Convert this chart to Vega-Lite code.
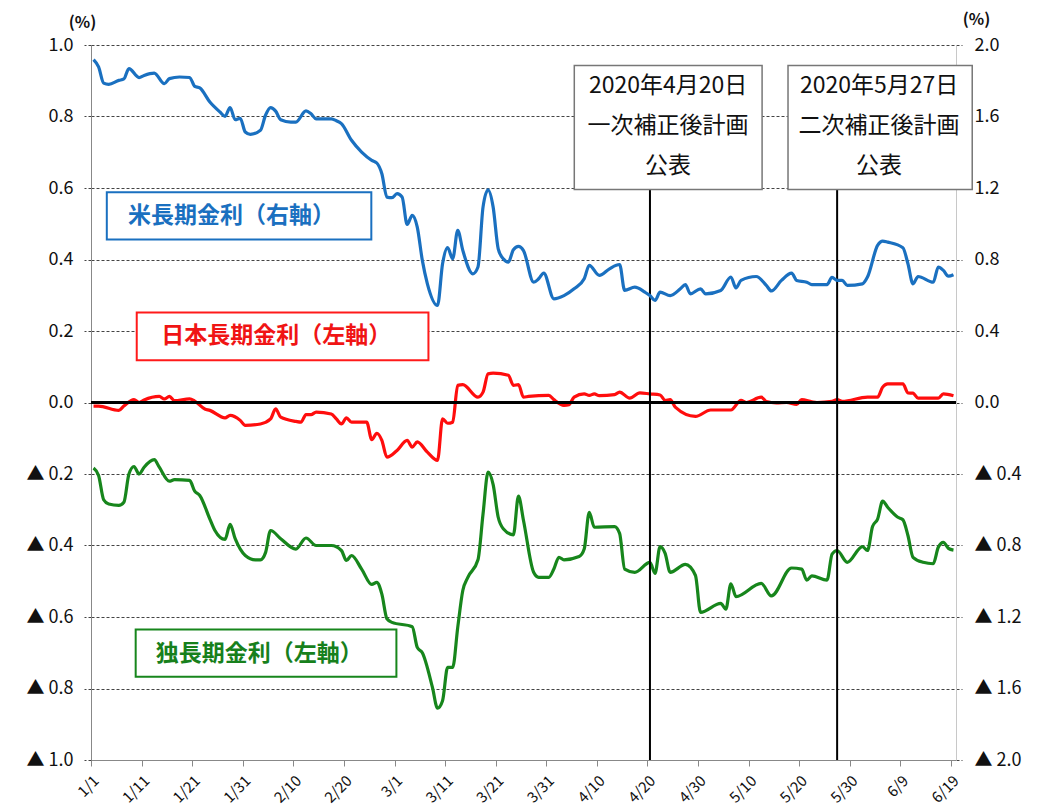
{
  "$schema": "https://vega.github.io/schema/vega-lite/v6.json",
  "width": 865,
  "height": 715,
  "autosize": {"type": "none"},
  "padding": {"left": 91, "top": 45, "right": 93, "bottom": 46},
  "background": "white",
  "config": {
    "font": "Noto Sans CJK JP",
    "view": {"stroke": null}
  },
  "datasets": {
    "jp": [
      {"date": "2020-01-01", "value": -0.010}, {"date": "2020-01-02", "value": -0.010}, {"date": "2020-01-06", "value": -0.022},
      {"date": "2020-01-07", "value": -0.010}, {"date": "2020-01-09", "value": 0.008}, {"date": "2020-01-10", "value": 0.000},
      {"date": "2020-01-11", "value": 0.007}, {"date": "2020-01-14", "value": 0.017}, {"date": "2020-01-15", "value": 0.010},
      {"date": "2020-01-16", "value": 0.017}, {"date": "2020-01-17", "value": 0.005}, {"date": "2020-01-20", "value": 0.010},
      {"date": "2020-01-21", "value": 0.004}, {"date": "2020-01-23", "value": -0.018}, {"date": "2020-01-24", "value": -0.022},
      {"date": "2020-01-27", "value": -0.043}, {"date": "2020-01-28", "value": -0.036}, {"date": "2020-01-30", "value": -0.050},
      {"date": "2020-01-31", "value": -0.064}, {"date": "2020-02-03", "value": -0.060}, {"date": "2020-02-05", "value": -0.046},
      {"date": "2020-02-06", "value": -0.018}, {"date": "2020-02-07", "value": -0.041}, {"date": "2020-02-10", "value": -0.053},
      {"date": "2020-02-11", "value": -0.055}, {"date": "2020-02-12", "value": -0.034}, {"date": "2020-02-13", "value": -0.034},
      {"date": "2020-02-14", "value": -0.027}, {"date": "2020-02-17", "value": -0.032}, {"date": "2020-02-18", "value": -0.046},
      {"date": "2020-02-19", "value": -0.060}, {"date": "2020-02-20", "value": -0.043}, {"date": "2020-02-21", "value": -0.055},
      {"date": "2020-02-24", "value": -0.055}, {"date": "2020-02-25", "value": -0.104}, {"date": "2020-02-26", "value": -0.086},
      {"date": "2020-02-27", "value": -0.106}, {"date": "2020-02-28", "value": -0.153}, {"date": "2020-03-01", "value": -0.134},
      {"date": "2020-03-03", "value": -0.106}, {"date": "2020-03-04", "value": -0.125}, {"date": "2020-03-05", "value": -0.110},
      {"date": "2020-03-07", "value": -0.139}, {"date": "2020-03-09", "value": -0.162}, {"date": "2020-03-10", "value": -0.046},
      {"date": "2020-03-11", "value": -0.058}, {"date": "2020-03-12", "value": -0.055}, {"date": "2020-03-13", "value": 0.048},
      {"date": "2020-03-14", "value": 0.050}, {"date": "2020-03-17", "value": 0.015}, {"date": "2020-03-18", "value": 0.029},
      {"date": "2020-03-19", "value": 0.080}, {"date": "2020-03-20", "value": 0.082}, {"date": "2020-03-23", "value": 0.076},
      {"date": "2020-03-24", "value": 0.048}, {"date": "2020-03-25", "value": 0.050}, {"date": "2020-03-26", "value": 0.015},
      {"date": "2020-03-27", "value": 0.017}, {"date": "2020-03-31", "value": 0.020}, {"date": "2020-04-01", "value": 0.008},
      {"date": "2020-04-03", "value": -0.008}, {"date": "2020-04-04", "value": -0.006}, {"date": "2020-04-05", "value": 0.015},
      {"date": "2020-04-07", "value": 0.024}, {"date": "2020-04-08", "value": 0.020}, {"date": "2020-04-09", "value": 0.024},
      {"date": "2020-04-10", "value": 0.019}, {"date": "2020-04-13", "value": 0.022}, {"date": "2020-04-14", "value": 0.029},
      {"date": "2020-04-16", "value": 0.012}, {"date": "2020-04-18", "value": 0.027}, {"date": "2020-04-20", "value": 0.024},
      {"date": "2020-04-22", "value": 0.021}, {"date": "2020-04-23", "value": 0.006}, {"date": "2020-04-24", "value": 0.008},
      {"date": "2020-04-25", "value": -0.013}, {"date": "2020-04-29", "value": -0.039}, {"date": "2020-05-02", "value": -0.021},
      {"date": "2020-05-06", "value": -0.021}, {"date": "2020-05-08", "value": 0.006}, {"date": "2020-05-09", "value": 0.000},
      {"date": "2020-05-12", "value": 0.015}, {"date": "2020-05-13", "value": 0.003}, {"date": "2020-05-15", "value": -0.001},
      {"date": "2020-05-17", "value": 0.000}, {"date": "2020-05-19", "value": -0.005}, {"date": "2020-05-20", "value": 0.008},
      {"date": "2020-05-22", "value": 0.002}, {"date": "2020-05-23", "value": 0.000}, {"date": "2020-05-26", "value": 0.003},
      {"date": "2020-05-27", "value": 0.008}, {"date": "2020-05-28", "value": 0.003}, {"date": "2020-06-02", "value": 0.015},
      {"date": "2020-06-04", "value": 0.015}, {"date": "2020-06-05", "value": 0.043}, {"date": "2020-06-06", "value": 0.052},
      {"date": "2020-06-09", "value": 0.052}, {"date": "2020-06-10", "value": 0.027}, {"date": "2020-06-11", "value": 0.026},
      {"date": "2020-06-12", "value": 0.012}, {"date": "2020-06-16", "value": 0.012}, {"date": "2020-06-17", "value": 0.024},
      {"date": "2020-06-19", "value": 0.019}
    ],
    "de": [
      {"date": "2020-01-01", "value": -0.183}, {"date": "2020-01-02", "value": -0.204}, {"date": "2020-01-03", "value": -0.272},
      {"date": "2020-01-04", "value": -0.284}, {"date": "2020-01-06", "value": -0.288}, {"date": "2020-01-07", "value": -0.279},
      {"date": "2020-01-08", "value": -0.200}, {"date": "2020-01-09", "value": -0.179}, {"date": "2020-01-10", "value": -0.200},
      {"date": "2020-01-11", "value": -0.181}, {"date": "2020-01-13", "value": -0.160}, {"date": "2020-01-14", "value": -0.181},
      {"date": "2020-01-16", "value": -0.220}, {"date": "2020-01-17", "value": -0.216}, {"date": "2020-01-20", "value": -0.218},
      {"date": "2020-01-21", "value": -0.248}, {"date": "2020-01-22", "value": -0.260}, {"date": "2020-01-24", "value": -0.326},
      {"date": "2020-01-25", "value": -0.358}, {"date": "2020-01-27", "value": -0.383}, {"date": "2020-01-28", "value": -0.341},
      {"date": "2020-01-29", "value": -0.381}, {"date": "2020-01-31", "value": -0.428}, {"date": "2020-02-02", "value": -0.440},
      {"date": "2020-02-03", "value": -0.440}, {"date": "2020-02-04", "value": -0.420}, {"date": "2020-02-05", "value": -0.358},
      {"date": "2020-02-07", "value": -0.381}, {"date": "2020-02-10", "value": -0.410}, {"date": "2020-02-12", "value": -0.379},
      {"date": "2020-02-14", "value": -0.400}, {"date": "2020-02-17", "value": -0.400}, {"date": "2020-02-19", "value": -0.414},
      {"date": "2020-02-20", "value": -0.442}, {"date": "2020-02-21", "value": -0.428}, {"date": "2020-02-23", "value": -0.466},
      {"date": "2020-02-25", "value": -0.509}, {"date": "2020-02-26", "value": -0.503}, {"date": "2020-02-27", "value": -0.536},
      {"date": "2020-02-28", "value": -0.605}, {"date": "2020-02-29", "value": -0.615}, {"date": "2020-03-04", "value": -0.627},
      {"date": "2020-03-05", "value": -0.685}, {"date": "2020-03-06", "value": -0.700}, {"date": "2020-03-08", "value": -0.797},
      {"date": "2020-03-09", "value": -0.855}, {"date": "2020-03-10", "value": -0.834}, {"date": "2020-03-11", "value": -0.741},
      {"date": "2020-03-12", "value": -0.741}, {"date": "2020-03-13", "value": -0.629}, {"date": "2020-03-14", "value": -0.526},
      {"date": "2020-03-15", "value": -0.489}, {"date": "2020-03-17", "value": -0.440}, {"date": "2020-03-18", "value": -0.312},
      {"date": "2020-03-19", "value": -0.195}, {"date": "2020-03-20", "value": -0.230}, {"date": "2020-03-21", "value": -0.321},
      {"date": "2020-03-22", "value": -0.353}, {"date": "2020-03-24", "value": -0.370}, {"date": "2020-03-25", "value": -0.262},
      {"date": "2020-03-26", "value": -0.330}, {"date": "2020-03-28", "value": -0.475}, {"date": "2020-03-29", "value": -0.489},
      {"date": "2020-03-31", "value": -0.489}, {"date": "2020-04-01", "value": -0.466}, {"date": "2020-04-02", "value": -0.433},
      {"date": "2020-04-03", "value": -0.440}, {"date": "2020-04-06", "value": -0.431}, {"date": "2020-04-07", "value": -0.410},
      {"date": "2020-04-08", "value": -0.307}, {"date": "2020-04-09", "value": -0.349}, {"date": "2020-04-13", "value": -0.347},
      {"date": "2020-04-14", "value": -0.366}, {"date": "2020-04-15", "value": -0.466}, {"date": "2020-04-17", "value": -0.475},
      {"date": "2020-04-20", "value": -0.447}, {"date": "2020-04-21", "value": -0.478}, {"date": "2020-04-22", "value": -0.403},
      {"date": "2020-04-23", "value": -0.422}, {"date": "2020-04-24", "value": -0.475}, {"date": "2020-04-27", "value": -0.453},
      {"date": "2020-04-29", "value": -0.484}, {"date": "2020-04-30", "value": -0.587}, {"date": "2020-05-04", "value": -0.562},
      {"date": "2020-05-05", "value": -0.578}, {"date": "2020-05-06", "value": -0.507}, {"date": "2020-05-07", "value": -0.543},
      {"date": "2020-05-12", "value": -0.506}, {"date": "2020-05-14", "value": -0.541}, {"date": "2020-05-18", "value": -0.463},
      {"date": "2020-05-20", "value": -0.466}, {"date": "2020-05-21", "value": -0.497}, {"date": "2020-05-22", "value": -0.485},
      {"date": "2020-05-25", "value": -0.497}, {"date": "2020-05-26", "value": -0.424}, {"date": "2020-05-27", "value": -0.414},
      {"date": "2020-05-29", "value": -0.447}, {"date": "2020-06-01", "value": -0.403}, {"date": "2020-06-02", "value": -0.414},
      {"date": "2020-06-03", "value": -0.347}, {"date": "2020-06-04", "value": -0.326}, {"date": "2020-06-05", "value": -0.276},
      {"date": "2020-06-06", "value": -0.293}, {"date": "2020-06-08", "value": -0.321}, {"date": "2020-06-09", "value": -0.328},
      {"date": "2020-06-10", "value": -0.372}, {"date": "2020-06-11", "value": -0.433}, {"date": "2020-06-13", "value": -0.447},
      {"date": "2020-06-15", "value": -0.451}, {"date": "2020-06-16", "value": -0.405}, {"date": "2020-06-17", "value": -0.391},
      {"date": "2020-06-18", "value": -0.408}, {"date": "2020-06-19", "value": -0.413}
    ],
    "us": [
      {"date": "2020-01-01", "value": 1.918}, {"date": "2020-01-02", "value": 1.877}, {"date": "2020-01-03", "value": 1.787},
      {"date": "2020-01-04", "value": 1.780}, {"date": "2020-01-06", "value": 1.802}, {"date": "2020-01-07", "value": 1.810},
      {"date": "2020-01-08", "value": 1.868}, {"date": "2020-01-10", "value": 1.818}, {"date": "2020-01-11", "value": 1.830},
      {"date": "2020-01-13", "value": 1.843}, {"date": "2020-01-15", "value": 1.784}, {"date": "2020-01-16", "value": 1.812},
      {"date": "2020-01-18", "value": 1.821}, {"date": "2020-01-20", "value": 1.818}, {"date": "2020-01-21", "value": 1.769},
      {"date": "2020-01-22", "value": 1.760}, {"date": "2020-01-24", "value": 1.681}, {"date": "2020-01-26", "value": 1.625},
      {"date": "2020-01-27", "value": 1.601}, {"date": "2020-01-28", "value": 1.650}, {"date": "2020-01-29", "value": 1.582},
      {"date": "2020-01-30", "value": 1.590}, {"date": "2020-01-31", "value": 1.513}, {"date": "2020-02-01", "value": 1.500},
      {"date": "2020-02-03", "value": 1.523}, {"date": "2020-02-04", "value": 1.607}, {"date": "2020-02-05", "value": 1.650},
      {"date": "2020-02-06", "value": 1.630}, {"date": "2020-02-07", "value": 1.582}, {"date": "2020-02-09", "value": 1.569},
      {"date": "2020-02-10", "value": 1.569}, {"date": "2020-02-12", "value": 1.631}, {"date": "2020-02-13", "value": 1.615},
      {"date": "2020-02-14", "value": 1.587}, {"date": "2020-02-17", "value": 1.587}, {"date": "2020-02-18", "value": 1.576},
      {"date": "2020-02-19", "value": 1.560}, {"date": "2020-02-21", "value": 1.467}, {"date": "2020-02-23", "value": 1.401},
      {"date": "2020-02-25", "value": 1.355}, {"date": "2020-02-26", "value": 1.340}, {"date": "2020-02-27", "value": 1.280},
      {"date": "2020-02-28", "value": 1.149}, {"date": "2020-02-29", "value": 1.146}, {"date": "2020-03-01", "value": 1.168},
      {"date": "2020-03-02", "value": 1.150}, {"date": "2020-03-03", "value": 0.996}, {"date": "2020-03-04", "value": 1.047},
      {"date": "2020-03-05", "value": 0.981}, {"date": "2020-03-06", "value": 0.795}, {"date": "2020-03-07", "value": 0.664},
      {"date": "2020-03-09", "value": 0.543}, {"date": "2020-03-10", "value": 0.776}, {"date": "2020-03-11", "value": 0.866},
      {"date": "2020-03-12", "value": 0.804}, {"date": "2020-03-13", "value": 0.963}, {"date": "2020-03-14", "value": 0.851},
      {"date": "2020-03-16", "value": 0.720}, {"date": "2020-03-17", "value": 0.758}, {"date": "2020-03-18", "value": 1.093},
      {"date": "2020-03-19", "value": 1.190}, {"date": "2020-03-20", "value": 1.093}, {"date": "2020-03-21", "value": 0.860},
      {"date": "2020-03-22", "value": 0.804}, {"date": "2020-03-23", "value": 0.785}, {"date": "2020-03-24", "value": 0.855},
      {"date": "2020-03-25", "value": 0.873}, {"date": "2020-03-26", "value": 0.850}, {"date": "2020-03-28", "value": 0.673},
      {"date": "2020-03-29", "value": 0.692}, {"date": "2020-03-30", "value": 0.724}, {"date": "2020-04-01", "value": 0.580},
      {"date": "2020-04-03", "value": 0.598}, {"date": "2020-04-05", "value": 0.636}, {"date": "2020-04-07", "value": 0.692},
      {"date": "2020-04-08", "value": 0.767}, {"date": "2020-04-10", "value": 0.711}, {"date": "2020-04-12", "value": 0.748},
      {"date": "2020-04-14", "value": 0.772}, {"date": "2020-04-15", "value": 0.627}, {"date": "2020-04-17", "value": 0.645},
      {"date": "2020-04-19", "value": 0.617}, {"date": "2020-04-20", "value": 0.598}, {"date": "2020-04-21", "value": 0.571},
      {"date": "2020-04-22", "value": 0.617}, {"date": "2020-04-24", "value": 0.598}, {"date": "2020-04-26", "value": 0.636},
      {"date": "2020-04-27", "value": 0.660}, {"date": "2020-04-28", "value": 0.608}, {"date": "2020-04-30", "value": 0.636},
      {"date": "2020-05-01", "value": 0.608}, {"date": "2020-05-04", "value": 0.627}, {"date": "2020-05-06", "value": 0.702},
      {"date": "2020-05-07", "value": 0.641}, {"date": "2020-05-08", "value": 0.683}, {"date": "2020-05-11", "value": 0.705},
      {"date": "2020-05-13", "value": 0.655}, {"date": "2020-05-14", "value": 0.624}, {"date": "2020-05-16", "value": 0.683},
      {"date": "2020-05-18", "value": 0.724}, {"date": "2020-05-19", "value": 0.683}, {"date": "2020-05-21", "value": 0.673},
      {"date": "2020-05-22", "value": 0.660}, {"date": "2020-05-25", "value": 0.660}, {"date": "2020-05-26", "value": 0.700},
      {"date": "2020-05-27", "value": 0.683}, {"date": "2020-05-28", "value": 0.683}, {"date": "2020-05-29", "value": 0.655},
      {"date": "2020-06-01", "value": 0.664}, {"date": "2020-06-02", "value": 0.702}, {"date": "2020-06-04", "value": 0.879},
      {"date": "2020-06-05", "value": 0.903}, {"date": "2020-06-06", "value": 0.897}, {"date": "2020-06-09", "value": 0.866},
      {"date": "2020-06-10", "value": 0.776}, {"date": "2020-06-11", "value": 0.664}, {"date": "2020-06-12", "value": 0.705},
      {"date": "2020-06-15", "value": 0.673}, {"date": "2020-06-16", "value": 0.757}, {"date": "2020-06-17", "value": 0.739},
      {"date": "2020-06-18", "value": 0.707}, {"date": "2020-06-19", "value": 0.715}
    ],
    "events": [
      {"date": "2020-04-20", "event": "一次補正後計画公表"},
      {"date": "2020-05-27", "event": "二次補正後計画公表"}
    ],
    "single": [{}]
  },
  "layer": [
    {
      "layer": [
        {
          "data": {"name": "de"},
          "mark": {"type": "line", "color": "#17861c", "strokeWidth": 3.2, "interpolate": "monotone"},
          "encoding": {
            "x": {
              "field": "date", "type": "temporal", "timeUnit": "utcyearmonthdate", "bandPosition": 0.5,
              "scale": {"type": "utc", "domain": [{"year": 2020, "month": 1, "date": 1, "utc": true}, {"year": 2020, "month": 6, "date": 20, "utc": true}]},
              "axis": {
                "title": null,
                "values": [
                  {"year": 2020, "month": 1, "date": 1, "utc": true}, {"year": 2020, "month": 1, "date": 11, "utc": true},
                  {"year": 2020, "month": 1, "date": 21, "utc": true}, {"year": 2020, "month": 1, "date": 31, "utc": true},
                  {"year": 2020, "month": 2, "date": 10, "utc": true}, {"year": 2020, "month": 2, "date": 20, "utc": true},
                  {"year": 2020, "month": 3, "date": 1, "utc": true}, {"year": 2020, "month": 3, "date": 11, "utc": true},
                  {"year": 2020, "month": 3, "date": 21, "utc": true}, {"year": 2020, "month": 3, "date": 31, "utc": true},
                  {"year": 2020, "month": 4, "date": 10, "utc": true}, {"year": 2020, "month": 4, "date": 20, "utc": true},
                  {"year": 2020, "month": 4, "date": 30, "utc": true}, {"year": 2020, "month": 5, "date": 10, "utc": true},
                  {"year": 2020, "month": 5, "date": 20, "utc": true}, {"year": 2020, "month": 5, "date": 30, "utc": true},
                  {"year": 2020, "month": 6, "date": 9, "utc": true}, {"year": 2020, "month": 6, "date": 19, "utc": true}
                ],
                "format": "%-m/%-d",
                "labelAngle": -45,
                "labelFontSize": 15,
                "labelColor": "#111",
                "labelPadding": 7,
                "tickSize": 6,
                "tickColor": "#888",
                "domainColor": "#888",
                "grid": false
              }
            },
            "y": {
              "field": "value", "type": "quantitative",
              "scale": {"domain": [-1, 1], "nice": false},
              "axis": {
                "title": "(%)",
                "titleAngle": 0,
                "titleAlign": "center",
                "titleBaseline": "middle",
                "titleX": -9,
                "titleY": -23,
                "titleFontSize": 16,
                "titleFontWeight": "bold",
                "titleColor": "#111",
                "values": [-1, -0.8, -0.6, -0.4, -0.2, 0, 0.2, 0.4, 0.6, 0.8, 1],
                "labelExpr": "datum.value < 0 ? '▲ ' + format(-datum.value, '.1f') : format(datum.value, '.1f')",
                "labelFontSize": 18,
                "labelColor": "#111",
                "labelPadding": 11,
                "tickSize": 7,
                "tickColor": "#444",
                "tickDash": [3, 2],
                "domainColor": "#888",
                "grid": true,
                "gridColor": "#444",
                "gridDash": [3, 2],
                "gridWidth": 1
              }
            }
          }
        },
        {
          "data": {"name": "jp"},
          "mark": {"type": "line", "color": "#ff0d0d", "strokeWidth": 3.2, "interpolate": "monotone"},
          "encoding": {
            "x": {"field": "date", "type": "temporal", "timeUnit": "utcyearmonthdate", "bandPosition": 0.5},
            "y": {"field": "value", "type": "quantitative"}
          }
        },
        {
          "data": {"name": "events"},
          "mark": {"type": "rule", "color": "#000", "strokeWidth": 2},
          "encoding": {
            "x": {"field": "date", "type": "temporal", "timeUnit": "utcyearmonthdate", "bandPosition": 0.5},
            "y": {"datum": -1, "type": "quantitative"},
            "y2": {"datum": 0.6}
          }
        },
        {
          "data": {"name": "single"},
          "mark": {"type": "rule", "color": "#000", "strokeWidth": 3},
          "encoding": {"y": {"datum": 0, "type": "quantitative"}}
        },
        {
          "data": {"name": "single"},
          "mark": {"type": "rect", "fill": "white", "stroke": "#1a70c0", "strokeWidth": 2},
          "encoding": {
            "x": {"datum": {"year": 2020, "month": 1, "date": 4, "hours": 3, "utc": true}, "type": "temporal"},
            "x2": {"datum": {"year": 2020, "month": 2, "date": 25, "hours": 10, "utc": true}},
            "y": {"datum": 0.588, "type": "quantitative"},
            "y2": {"datum": 0.456}
          }
        },
        {
          "data": {"name": "single"},
          "mark": {"type": "text", "text": "米長期金利（右軸）", "color": "#1a70c0", "fontSize": 23, "fontWeight": "bold", "align": "center", "baseline": "middle"},
          "encoding": {
            "x": {"datum": {"year": 2020, "month": 1, "date": 28, "hours": 19, "utc": true}, "type": "temporal"},
            "y": {"datum": 0.522, "type": "quantitative"}
          }
        },
        {
          "data": {"name": "single"},
          "mark": {"type": "rect", "fill": "white", "stroke": "#ff1a1a", "strokeWidth": 2},
          "encoding": {
            "x": {"datum": {"year": 2020, "month": 1, "date": 10, "hours": 1, "utc": true}, "type": "temporal"},
            "x2": {"datum": {"year": 2020, "month": 3, "date": 7, "hours": 17, "utc": true}},
            "y": {"datum": 0.252, "type": "quantitative"},
            "y2": {"datum": 0.118}
          }
        },
        {
          "data": {"name": "single"},
          "mark": {"type": "text", "text": "日本長期金利（左軸）", "color": "#f01414", "fontSize": 23, "fontWeight": "bold", "align": "center", "baseline": "middle"},
          "encoding": {
            "x": {"datum": {"year": 2020, "month": 2, "date": 6, "hours": 15, "utc": true}, "type": "temporal"},
            "y": {"datum": 0.185, "type": "quantitative"}
          }
        },
        {
          "data": {"name": "single"},
          "mark": {"type": "rect", "fill": "white", "stroke": "#17861c", "strokeWidth": 2},
          "encoding": {
            "x": {"datum": {"year": 2020, "month": 1, "date": 9, "hours": 20, "utc": true}, "type": "temporal"},
            "x2": {"datum": {"year": 2020, "month": 3, "date": 1, "hours": 9, "utc": true}},
            "y": {"datum": -0.635, "type": "quantitative"},
            "y2": {"datum": -0.767}
          }
        },
        {
          "data": {"name": "single"},
          "mark": {"type": "text", "text": "独長期金利（左軸）", "color": "#17801c", "fontSize": 23, "fontWeight": "bold", "align": "center", "baseline": "middle"},
          "encoding": {
            "x": {"datum": {"year": 2020, "month": 2, "date": 3, "hours": 6, "utc": true}, "type": "temporal"},
            "y": {"datum": -0.703, "type": "quantitative"}
          }
        },
        {
          "data": {"name": "single"},
          "mark": {"type": "rect", "fill": "white", "stroke": "#777", "strokeWidth": 1.5},
          "encoding": {
            "x": {"datum": {"year": 2020, "month": 4, "date": 5, "hours": 13, "utc": true}, "type": "temporal"},
            "x2": {"datum": {"year": 2020, "month": 5, "date": 12, "hours": 16, "utc": true}},
            "y": {"datum": 0.943, "type": "quantitative"},
            "y2": {"datum": 0.596}
          }
        },
        {
          "data": {"name": "single"},
          "mark": {"type": "text", "text": ["2020年4月20日", "一次補正後計画", "公表"], "color": "#111", "fontSize": 23, "lineHeight": 40, "align": "center", "baseline": "middle"},
          "encoding": {
            "x": {"datum": {"year": 2020, "month": 4, "date": 24, "hours": 2, "utc": true}, "type": "temporal"},
            "y": {"datum": 0.884, "type": "quantitative"}
          }
        },
        {
          "data": {"name": "single"},
          "mark": {"type": "rect", "fill": "white", "stroke": "#777", "strokeWidth": 1.5},
          "encoding": {
            "x": {"datum": {"year": 2020, "month": 5, "date": 17, "hours": 19, "utc": true}, "type": "temporal"},
            "x2": {"datum": {"year": 2020, "month": 6, "date": 23, "hours": 5, "utc": true}},
            "y": {"datum": 0.943, "type": "quantitative"},
            "y2": {"datum": 0.596}
          }
        },
        {
          "data": {"name": "single"},
          "mark": {"type": "text", "text": ["2020年5月27日", "二次補正後計画", "公表"], "color": "#111", "fontSize": 23, "lineHeight": 40, "align": "center", "baseline": "middle"},
          "encoding": {
            "x": {"datum": {"year": 2020, "month": 6, "date": 4, "hours": 19, "utc": true}, "type": "temporal"},
            "y": {"datum": 0.884, "type": "quantitative"}
          }
        }
      ]
    },
    {
      "data": {"name": "us"},
      "mark": {"type": "line", "color": "#1a70c0", "strokeWidth": 3.2, "interpolate": "monotone"},
      "encoding": {
        "x": {"field": "date", "type": "temporal", "timeUnit": "utcyearmonthdate", "bandPosition": 0.5},
        "y": {
          "field": "value", "type": "quantitative",
          "scale": {"domain": [-2, 2], "nice": false},
          "axis": {
            "orient": "right",
            "title": "(%)",
            "titleAngle": 0,
            "titleAlign": "center",
            "titleBaseline": "middle",
            "titleX": 20,
            "titleY": -26,
            "titleFontSize": 16,
            "titleFontWeight": "bold",
            "titleColor": "#111",
            "values": [-2, -1.6, -1.2, -0.8, -0.4, 0, 0.4, 0.8, 1.2, 1.6, 2],
            "labelExpr": "datum.value < 0 ? '▲ ' + format(-datum.value, '.1f') : format(datum.value, '.1f')",
            "labelFontSize": 18,
            "labelColor": "#111",
            "labelPadding": 12,
            "tickSize": 6,
            "tickColor": "#444",
            "tickDash": [3, 2],
            "domainColor": "#c8c8c8",
            "grid": false
          }
        }
      }
    }
  ],
  "resolve": {"scale": {"y": "independent"}, "axis": {"y": "independent"}}
}
